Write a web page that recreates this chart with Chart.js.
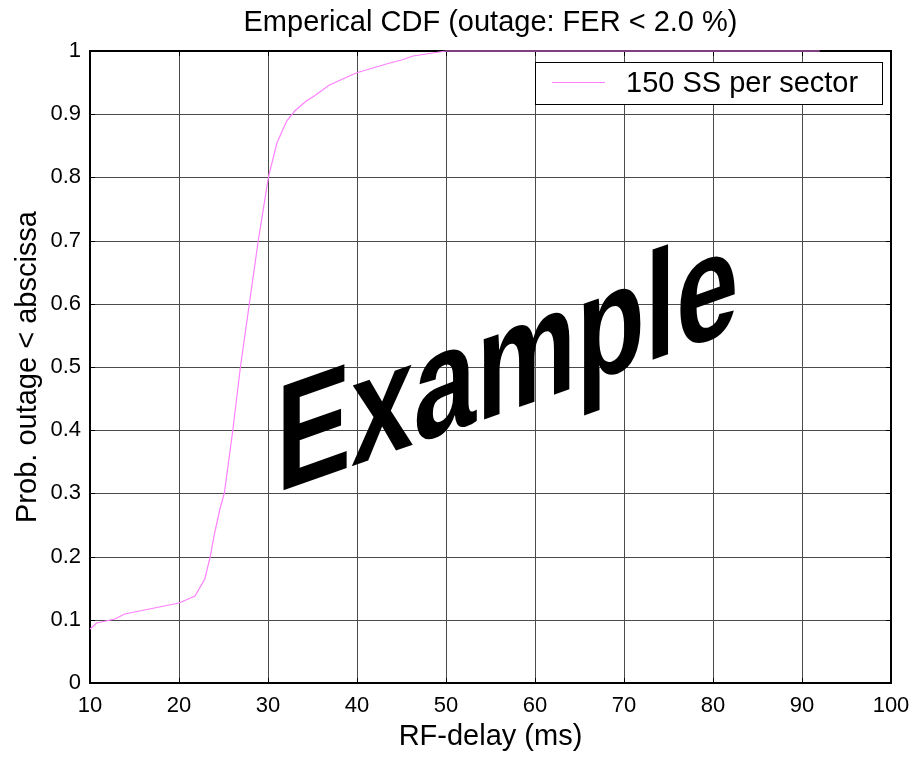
<!DOCTYPE html>
<html>
<head>
<meta charset="utf-8">
<script src="https://cdn.jsdelivr.net/npm/chart.js@4.4.1/dist/chart.umd.min.js"></script>
<style>
  html, body { margin: 0; padding: 0; background: #fff; }
  #wrap { width: 920px; height: 764px; }
</style>
</head>
<body>
<div id="wrap"><canvas id="cdfChart" width="920" height="764"></canvas></div>
<script>
var delayMs = [10, 10.75, 12.8, 13.9, 20, 21.8, 22.9, 23.5, 24.0, 24.6, 25.1, 26.05, 26.9, 27.9, 28.9, 30.05, 31.0, 32.1, 33.0, 34.3, 35.2, 36.9, 38.4, 39.9, 41.4, 43.3, 45.0, 46.3, 48.5, 50, 92];
var probOutage = [0.085, 0.095, 0.102, 0.109, 0.127, 0.138, 0.164, 0.200, 0.237, 0.275, 0.30, 0.40, 0.50, 0.60, 0.70, 0.80, 0.855, 0.889, 0.905, 0.921, 0.929, 0.946, 0.956, 0.965, 0.972, 0.980, 0.985, 0.992, 0.997, 1.0, 1.0];
var seriesLabel = "150 SS per sector";
var xTicks = [10, 20, 30, 40, 50, 60, 70, 80, 90, 100];
var yTicks = [0, 0.1, 0.2, 0.3, 0.4, 0.5, 0.6, 0.7, 0.8, 0.9, 1];

var FONT = "'Liberation Sans', Arial, sans-serif";

// box round the plot + little inward tick marks, matlab style (drawn under the line)
var boxPlugin = {
  id: "box",
  beforeDatasetsDraw: function (chart) {
    var ctx = chart.ctx, a = chart.chartArea;
    var xs = chart.scales.x, ys = chart.scales.y;
    ctx.save();
    ctx.strokeStyle = "#000";
    ctx.lineWidth = 1;
    xTicks.forEach(function (t) {
      var px = Math.round(xs.getPixelForValue(t)) + 0.5;
      ctx.beginPath();
      ctx.moveTo(px, a.bottom); ctx.lineTo(px, a.bottom - 5);
      ctx.moveTo(px, a.top); ctx.lineTo(px, a.top + 5);
      ctx.stroke();
    });
    yTicks.forEach(function (t) {
      var py = Math.round(ys.getPixelForValue(t)) + 0.5;
      ctx.beginPath();
      ctx.moveTo(a.left, py); ctx.lineTo(a.left + 5, py);
      ctx.moveTo(a.right, py); ctx.lineTo(a.right - 5, py);
      ctx.stroke();
    });
    ctx.lineWidth = 2;
    ctx.beginPath();
    ctx.moveTo(a.left, a.top); ctx.lineTo(a.right, a.top); ctx.lineTo(a.right, a.bottom);
    ctx.stroke();
    ctx.restore();
  }
};

// legend inside the axes, top right
var legendPlugin = {
  id: "insideLegend",
  afterDraw: function (chart) {
    var ctx = chart.ctx, ds = chart.data.datasets[0];
    ctx.save();
    ctx.fillStyle = "#fff";
    ctx.fillRect(535, 62, 347, 42);
    ctx.strokeStyle = "#000";
    ctx.lineWidth = 1;
    ctx.strokeRect(535.5, 62.5, 347, 42);
    ctx.strokeStyle = ds.borderColor;
    ctx.lineWidth = 1.2;
    ctx.beginPath();
    ctx.moveTo(552, 82.5); ctx.lineTo(605, 82.5);
    ctx.stroke();
    ctx.fillStyle = "#000";
    ctx.font = "29px " + FONT;
    ctx.textBaseline = "middle";
    ctx.fillText(ds.label, 626, 84);
    ctx.restore();
  }
};

// sheared "Example" stamp over the plot
var stampPlugin = {
  id: "stamp",
  afterDraw: function (chart) {
    var ctx = chart.ctx;
    ctx.save();
    ctx.setTransform(0.74, -0.262, 0, 1, 276, 493);
    ctx.fillStyle = "#000";
    ctx.font = "bold 152px " + FONT;
    ctx.textBaseline = "alphabetic";
    ctx.fillText("Example", 0, 0);
    ctx.restore();
  }
};

function get_cdf_chart() {
  var pts = delayMs.map(function (d, i) { return { x: d, y: probOutage[i] }; });

  new Chart("cdfChart", {
    type: "line",
    data: {
      datasets: [{
        label: seriesLabel,
        data: pts,
        borderColor: "#ff80ff",
        borderWidth: 1.2,
        pointRadius: 0,
        tension: 0,
        fill: false,
        clip: 4
      }]
    },
    options: {
      responsive: false,
      animation: false,
      layout: { padding: { left: 0, right: 29, top: 0, bottom: 0 } },
      plugins: {
        legend: { display: false },
        tooltip: { enabled: false }
      },
      scales: {
        // top axis only carries the title so it centres over the plot
        xTop: {
          type: "linear",
          position: "top",
          min: 10, max: 100,
          afterFit: function (s) { s.height = 51; },
          grid: { display: false },
          border: { display: false },
          ticks: { display: false },
          title: {
            display: true, text: "Emperical CDF (outage: FER < 2.0 %)", color: "#000",
            font: { family: FONT, size: 29, lineHeight: 1.2 },
            padding: { top: 5.6, bottom: 0 }
          }
        },
        x: {
          type: "linear",
          position: "bottom",
          min: 10, max: 100,
          alignToPixels: true,
          afterBuildTicks: function (s) { s.ticks = xTicks.map(function (v) { return { value: v }; }); },
          afterFit: function (s) { s.height = 81; },
          grid: { color: "#4a4a4a", lineWidth: 1, drawTicks: false },
          border: { color: "#000", width: 2 },
          ticks: { color: "#000", padding: 10, maxRotation: 0, font: { family: FONT, size: 22 } },
          title: {
            display: true, text: "RF-delay (ms)", color: "#000",
            font: { family: FONT, size: 29, lineHeight: 1.2 },
            padding: { top: 0, bottom: 10 }
          }
        },
        y: {
          type: "linear",
          min: 0, max: 1,
          alignToPixels: true,
          afterBuildTicks: function (s) { s.ticks = yTicks.map(function (v) { return { value: v }; }); },
          afterFit: function (s) { s.width = 90; },
          grid: { color: "#4a4a4a", lineWidth: 1, drawTicks: false },
          border: { color: "#000", width: 2 },
          ticks: {
            color: "#000", padding: 9, font: { family: FONT, size: 22 },
            callback: function (v) { return String(Math.round(v * 10) / 10); }
          },
          title: {
            display: true, text: "Prob. outage < abscissa", color: "#000",
            font: { family: FONT, size: 29, lineHeight: 1.2 },
            padding: { top: 11, bottom: 0 }
          }
        }
      }
    },
    plugins: [boxPlugin, stampPlugin, legendPlugin]
  });
}

get_cdf_chart();
</script>
</body>
</html>
